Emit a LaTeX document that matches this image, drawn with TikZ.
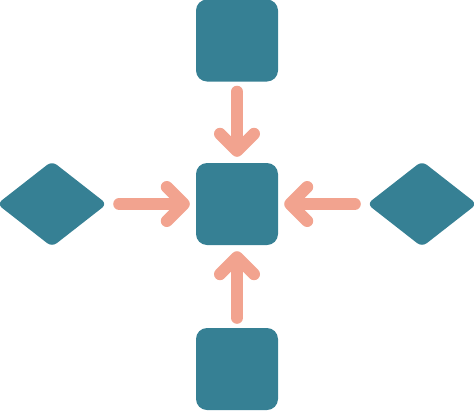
\documentclass[tikz,border=0pt]{standalone}
\usetikzlibrary{shapes.geometric,arrows.meta}
\definecolor{blaagroen}{RGB}{54,128,148}
\definecolor{laks}{RGB}{242,163,143}
\tikzset{
  boks/.style={fill=blaagroen,rounded corners=11pt,minimum size=82pt,inner sep=0pt},
  rombe/.style={diamond,fill=blaagroen,rounded corners=6pt,minimum width=110pt,minimum height=86pt,inner sep=0pt},
  pil/.style={draw=laks,line width=12pt,line cap=round,line join=round,
    -{Straight Barb[length=17pt,width=34pt,line cap=round,line join=round]},shorten <=10pt,shorten >=6pt}
}
\begin{document}
\begin{tikzpicture}[x=1pt,y=-1pt]
  %ramme
	\useasboundingbox (0,0) rectangle (474,410);
  %bokse
	\node[boks] (midt) at (237,204) {};
	\node[boks] (top) at (237,40.5) {};
	\node[boks] (bund) at (237,369) {};
  %romber
	\node[rombe] (venstre) at (52,204) {};
	\node[rombe] (hoejre) at (422,204) {};
  %pile ind mod midten
	\draw[pil] (top) -- (midt);
	\draw[pil] (bund) -- (midt);
	\draw[pil,shorten <=12pt] (venstre) -- (midt);
	\draw[pil,shorten <=12pt] (hoejre) -- (midt);
\end{tikzpicture}
\end{document}
